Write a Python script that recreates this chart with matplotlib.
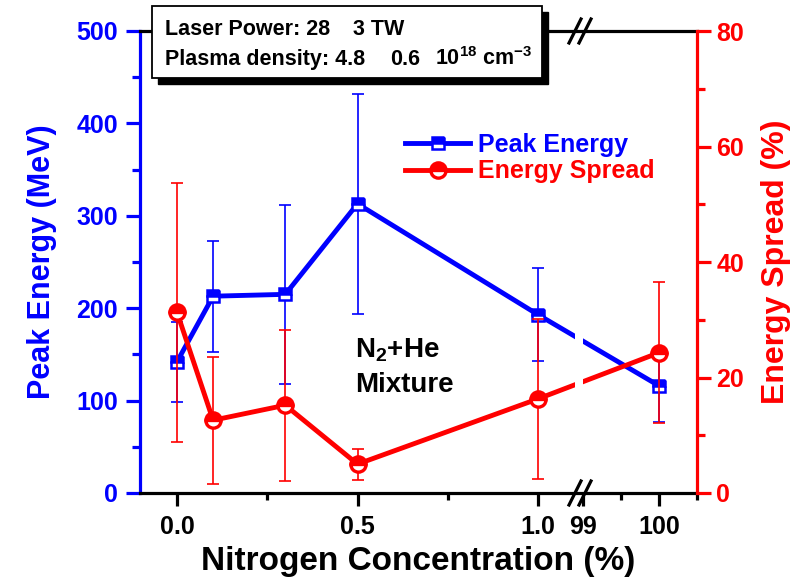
import numpy as np
import matplotlib
matplotlib.use('Agg')
import matplotlib.pyplot as plt
from matplotlib.lines import Line2D
from matplotlib.patches import Rectangle

plt.rcParams['font.family'] = ['Liberation Sans', 'DejaVu Sans']
plt.rcParams['font.weight'] = 'bold'
plt.rcParams['axes.labelweight'] = 'bold'
plt.rcParams['mathtext.fontset'] = 'custom'
plt.rcParams['mathtext.rm'] = 'Liberation Sans:bold'
plt.rcParams['mathtext.default'] = 'rm'

# data
conc = [0.0, 0.1, 0.3, 0.5, 1.0, 100.0]
peak_energy = [142, 213, 215, 313, 193, 116]
peak_err = [43, 60, 97, 119, 50, 39]
spread = [31.3, 12.6, 15.2, 5.0, 16.3, 24.3]
spread_err = [22.4, 11.0, 13.1, 2.7, 13.8, 12.2]

xtick_vals = [0.0, 0.5, 1.0, 99, 100]
xtick_labels = ['0.0', '0.5', '1.0', '99', '100']
xminor_vals = [0.25, 0.75, 99.5, 100.5]


def pos(x):
    # broken x axis: 0..1.1 linear, then 99..100.5 compressed
    x = np.asarray(x, float)
    return np.where(x < 50, x, 1.125 + (x - 99) * 0.2103)


fig = plt.figure(figsize=(8.05, 5.77), dpi=100)
ax = fig.add_axes([140/805, 84/577, 557/805, 462/577])
ax2 = ax.twinx()

lw_sp = 2.3
ax.errorbar(pos(conc), peak_energy, yerr=peak_err, fmt='none', ecolor='blue',
            elinewidth=1.2, capsize=4.5, capthick=1.2, zorder=2)
ax.plot(pos(conc), peak_energy, '-', color='blue', lw=3.5, marker='s', ms=9,
        fillstyle='top', markerfacecolor='blue', markerfacecoloralt='white',
        markeredgecolor='blue', mew=1.8, zorder=3)
ax2.errorbar(pos(conc), spread, yerr=spread_err, fmt='none', ecolor='red',
             elinewidth=1.2, capsize=4.5, capthick=1.2, zorder=2)
ax2.plot(pos(conc), spread, '-', color='red', lw=3.5, marker='o', ms=11,
         fillstyle='top', markerfacecolor='red', markerfacecoloralt='white',
         markeredgecolor='red', mew=2.4, zorder=3)

# gap in the lines at the break
ax2.axvspan(1.1025, 1.1247, ymin=0.01, ymax=0.99, color='white', zorder=5, lw=0)

ax.set_xlim(-0.1025, float(pos(100.5)))
ax.set_ylim(0, 500)
ax2.set_ylim(0, 80)

ax.set_xticks(pos(xtick_vals))
ax.set_xticklabels(xtick_labels)
ax.set_xticks(pos(xminor_vals), minor=True)
ax.set_yticks(np.arange(0, 501, 100))
ax.set_yticks(np.arange(50, 500, 100), minor=True)
ax2.set_yticks(np.arange(0, 81, 20))
ax2.set_yticks(np.arange(10, 80, 20), minor=True)

ax.tick_params(axis='x', which='major', direction='out', length=9, width=lw_sp,
               labelsize=18, pad=7, top=False)
ax.tick_params(axis='x', which='minor', direction='out', length=5, width=lw_sp, top=False)
ax.tick_params(axis='y', which='major', direction='out', length=10, width=lw_sp,
               colors='blue', labelsize=18, pad=6)
ax.tick_params(axis='y', which='minor', direction='out', length=5.5, width=lw_sp, colors='blue')
ax2.tick_params(axis='y', which='major', direction='out', length=10, width=lw_sp,
                colors='red', labelsize=18, pad=4)
ax2.tick_params(axis='y', which='minor', direction='out', length=5.5, width=lw_sp, colors='red')

for s in ['top', 'bottom']:
    ax.spines[s].set_linewidth(lw_sp)
ax.spines['left'].set_color('blue')
ax.spines['left'].set_linewidth(lw_sp)
ax.spines['right'].set_visible(False)
ax2.spines['right'].set_color('red')
ax2.spines['right'].set_linewidth(lw_sp)
for s in ['left', 'top', 'bottom']:
    ax2.spines[s].set_visible(False)

ax.set_xlabel('Nitrogen Concentration (%)', fontsize=24, labelpad=5)
ax.set_ylabel('Peak Energy (MeV)', fontsize=22, color='blue', labelpad=14)
ax2.set_ylabel('Energy Spread (%)', fontsize=23, color='red', labelpad=12)

# break marks on top and bottom axes
bx = (580 - 140) / 557
dx, dy = 6 / 557, 12 / 462
for yy in [0, 1]:
    for off in [-5 / 557, 5 / 557]:
        ax2.plot([bx + off - dx, bx + off + dx], [yy - dy, yy + dy], color='black',
                 lw=2.3, transform=ax2.transAxes, clip_on=False, zorder=6)

# legend
handles = [
    Line2D([], [], color='blue', lw=3.5, marker='s', ms=9, fillstyle='top',
           markerfacecolor='blue', markerfacecoloralt='white', markeredgecolor='blue', mew=1.8),
    Line2D([], [], color='red', lw=3.5, marker='o', ms=11, fillstyle='top',
           markerfacecolor='red', markerfacecoloralt='white', markeredgecolor='red', mew=2.4),
]
leg = ax2.legend(handles, ['Peak Energy', 'Energy Spread'], loc='center left',
                 bbox_to_anchor=((405 - 140) / 557, (493 - 158) / 462), frameon=False,
                 fontsize=18, handlelength=2.6, handletextpad=0.3, labelspacing=0.1,
                 borderpad=0, borderaxespad=0)
leg.get_texts()[0].set_color('blue')
leg.get_texts()[1].set_color('red')

# inside annotation
ax2.text(0.386, (493 - 358) / 462, 'N$_2$+He', transform=ax2.transAxes, fontsize=20,
         va='baseline', ha='left')
ax2.text(0.386, (493 - 392) / 462, 'Mixture', transform=ax2.transAxes, fontsize=20,
         va='baseline', ha='left')

# parameter box with shadow
W, H = 805, 577
fig.add_artist(Rectangle((158 / W, (H - 84) / H), 390 / W, 72 / H, transform=fig.transFigure,
                         facecolor='black', edgecolor='black', zorder=10))
fig.add_artist(Rectangle((152 / W, (H - 78) / H), 390 / W, 72 / H, transform=fig.transFigure,
                         facecolor='white', edgecolor='black', lw=1.3, zorder=11))
fig.text(165 / W, (H - 35) / H, 'Laser Power: 28', fontsize=15.5, zorder=12, va='baseline')
fig.text(353 / W, (H - 35) / H, '3 TW', fontsize=15.5, zorder=12, va='baseline')
fig.text(165 / W, (H - 65) / H, 'Plasma density: 4.8', fontsize=15.5, zorder=12, va='baseline')
fig.text(390 / W, (H - 65) / H, '0.6', fontsize=15.5, zorder=12, va='baseline')
fig.text(435 / W, (H - 65) / H, '10$^{18}$ cm$^{-3}$', fontsize=15.5, zorder=12, va='baseline')

fig.savefig('out.png', dpi=100)
